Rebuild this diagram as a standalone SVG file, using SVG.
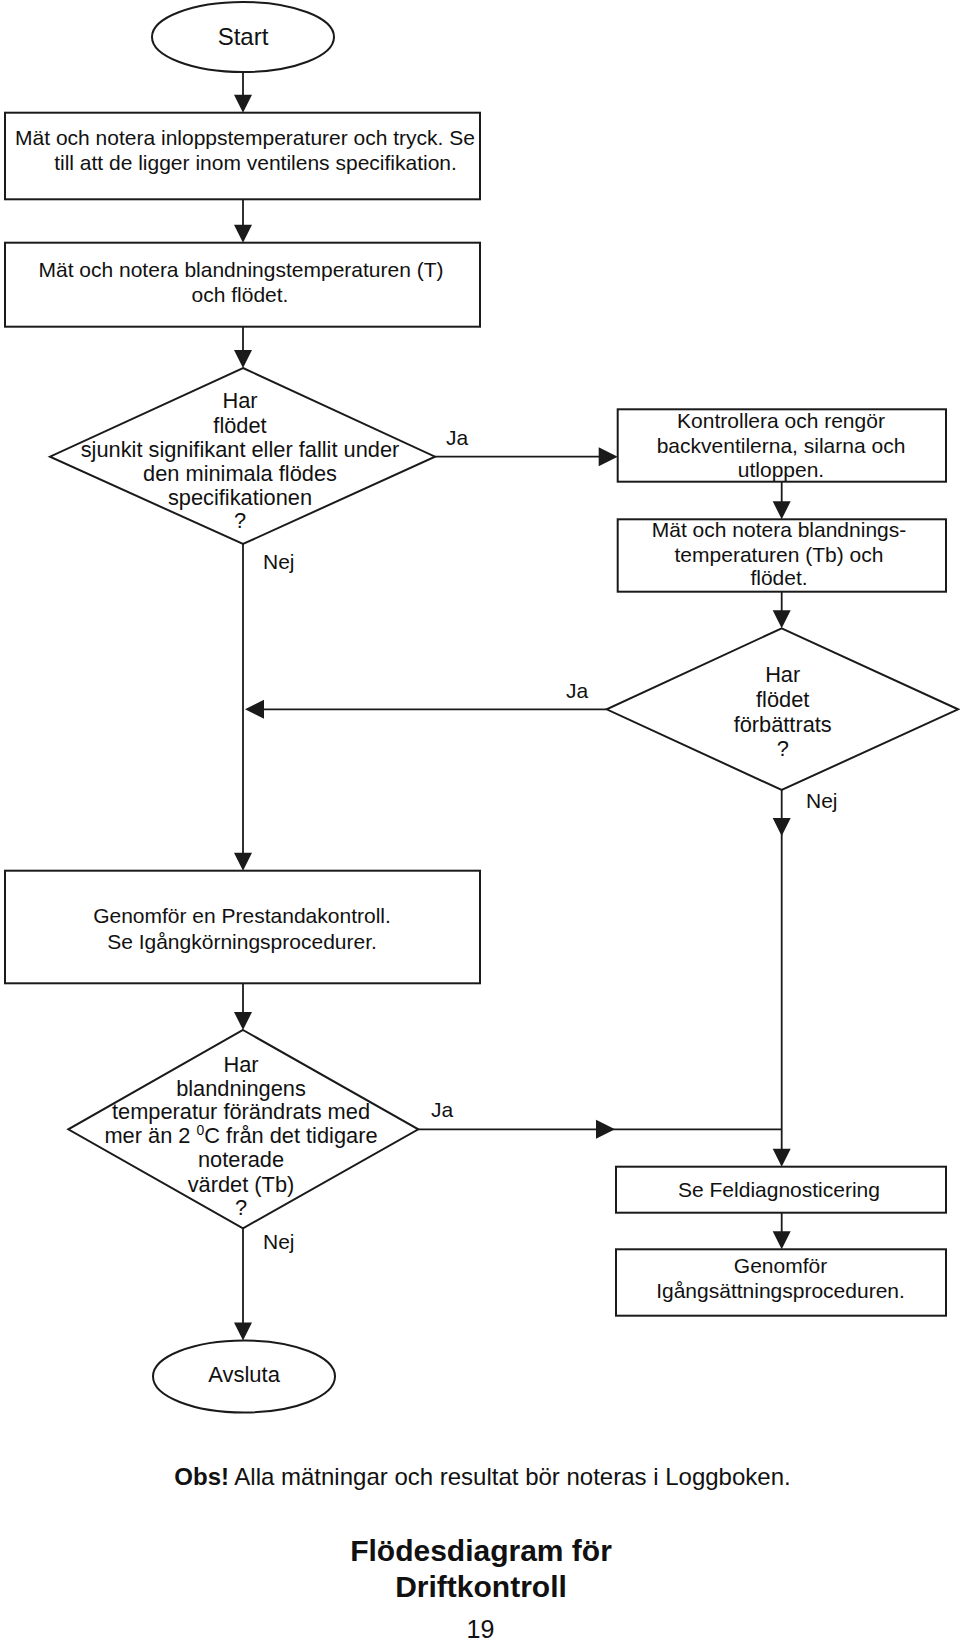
<svg xmlns="http://www.w3.org/2000/svg" xmlns:xlink="http://www.w3.org/1999/xlink" width="960" height="1642" viewBox="0 0 960 1642">
<style>
  .shape { fill: #ffffff; stroke: #1a1a1a; stroke-width: 2; }
  .conn { fill: none; stroke: #1a1a1a; stroke-width: 1.8; }
  .ah { fill: #1a1a1a; stroke: none; }
  text { font-family: "Liberation Sans", Arial, Helvetica, sans-serif; fill: #111111; }
  .t { font-size: 21px; text-anchor: middle; }
  .d { font-size: 21.8px; }
  .lbl { font-size: 21px; }
  .title { font-size: 30px; font-weight: bold; text-anchor: middle; }
</style>
<defs>
  <path id="ahDown" class="ah" d="M-9,-18 L9,-18 L0,0 Z"/>
  <path id="ahRight" class="ah" d="M-19,-9.5 L-19,9.5 L0,0 Z"/>
  <path id="ahLeft" class="ah" d="M19,-9.5 L19,9.5 L0,0 Z"/>
</defs>
<rect width="960" height="1642" fill="#ffffff"/>

<g id="connectors">
  <line class="conn" x1="243" y1="72" x2="243" y2="100"/>
  <line class="conn" x1="243" y1="199" x2="243" y2="230"/>
  <line class="conn" x1="243" y1="327" x2="243" y2="355"/>
  <line class="conn" x1="435" y1="456.7" x2="605" y2="456.7"/>
  <line class="conn" x1="243" y1="544" x2="243" y2="858"/>
  <line class="conn" x1="781.7" y1="481.7" x2="781.7" y2="507"/>
  <line class="conn" x1="781.7" y1="591.7" x2="781.7" y2="616"/>
  <line class="conn" x1="606.7" y1="709.3" x2="258" y2="709.3"/>
  <line class="conn" x1="781.7" y1="790" x2="781.7" y2="1154"/>
  <line class="conn" x1="243" y1="983" x2="243" y2="1017"/>
  <line class="conn" x1="418.3" y1="1129.3" x2="781.7" y2="1129.3"/>
  <line class="conn" x1="781.7" y1="1212.7" x2="781.7" y2="1237"/>
  <line class="conn" x1="243" y1="1228.3" x2="243" y2="1328"/>
  <use xlink:href="#ahDown" x="243" y="112.7"/>
  <use xlink:href="#ahDown" x="243" y="242.7"/>
  <use xlink:href="#ahDown" x="243" y="368"/>
  <use xlink:href="#ahRight" x="617.7" y="456.7"/>
  <use xlink:href="#ahDown" x="781.7" y="519.3"/>
  <use xlink:href="#ahDown" x="781.7" y="628.3"/>
  <use xlink:href="#ahLeft" x="245" y="709.3"/>
  <use xlink:href="#ahDown" x="781.7" y="836"/>
  <use xlink:href="#ahDown" x="243" y="870.7"/>
  <use xlink:href="#ahDown" x="243" y="1030"/>
  <use xlink:href="#ahRight" x="615" y="1129.3"/>
  <use xlink:href="#ahDown" x="781.7" y="1166.7"/>
  <use xlink:href="#ahDown" x="781.7" y="1249.3"/>
  <use xlink:href="#ahDown" x="243" y="1340.5"/>
  <text class="lbl" x="446" y="445">Ja</text>
  <text class="lbl" x="263" y="569">Nej</text>
  <text class="lbl" x="566" y="698">Ja</text>
  <text class="lbl" x="806" y="808">Nej</text>
  <text class="lbl" x="431" y="1116.7">Ja</text>
  <text class="lbl" x="263" y="1249">Nej</text>
</g>

<g id="start">
  <ellipse class="shape" cx="243" cy="37" rx="91" ry="35"/>
  <text class="t" x="243" y="45" style="font-size:24px">Start</text>
</g>

<g id="box1">
  <rect class="shape" x="5" y="112.7" width="475" height="86.6"/>
  <text class="t" x="245" y="145">Mät och notera inloppstemperaturer och tryck. Se</text>
  <text class="t" x="255.5" y="170">till att de ligger inom ventilens specifikation.</text>
</g>

<g id="box2">
  <rect class="shape" x="5" y="242.7" width="475" height="84"/>
  <text class="t" x="241" y="277">Mät och notera blandningstemperaturen (T)</text>
  <text class="t" x="240" y="302">och flödet.</text>
</g>

<g id="decision1">
  <polygon class="shape" points="243,368 435,456.7 243,544 50,456.7"/>
  <text class="t d" x="240" y="408">Har</text>
  <text class="t d" x="240" y="432.7">flödet</text>
  <text class="t d" x="240" y="457">sjunkit signifikant eller fallit under</text>
  <text class="t d" x="240" y="480.7">den minimala flödes</text>
  <text class="t d" x="240" y="505">specifikationen</text>
  <text class="t d" x="240" y="528">?</text>
</g>

<g id="box-kontrollera">
  <rect class="shape" x="617.7" y="409.3" width="328.3" height="72.4"/>
  <text class="t" x="781" y="428.3">Kontrollera och rengör</text>
  <text class="t" x="781" y="452.7">backventilerna, silarna och</text>
  <text class="t" x="781" y="476.7">utloppen.</text>
</g>

<g id="box-matb">
  <rect class="shape" x="617.7" y="519.3" width="328.3" height="72.4"/>
  <text class="t" x="779" y="537.3">Mät och notera blandnings-</text>
  <text class="t" x="779" y="561.7">temperaturen (Tb) och</text>
  <text class="t" x="779" y="585">flödet.</text>
</g>

<g id="decision2">
  <polygon class="shape" points="781.7,628.3 958,709.3 781.7,790 606.7,709.3"/>
  <text class="t d" x="782.7" y="681.7">Har</text>
  <text class="t d" x="782.7" y="706.7">flödet</text>
  <text class="t d" x="782.7" y="731.7">förbättrats</text>
  <text class="t d" x="782.7" y="756">?</text>
</g>

<g id="box-prestanda">
  <rect class="shape" x="5" y="870.7" width="475" height="112.6"/>
  <text class="t" x="242" y="923.3">Genomför en Prestandakontroll.</text>
  <text class="t" x="242" y="949">Se Igångkörningsprocedurer.</text>
</g>

<g id="decision3">
  <polygon class="shape" points="243,1030 418.3,1129.3 243,1228.3 68.3,1129.3"/>
  <text class="t d" x="241" y="1071.7">Har</text>
  <text class="t d" x="241" y="1095.7">blandningens</text>
  <text class="t d" x="241" y="1119.3">temperatur förändrats med</text>
  <text class="t d" x="241" y="1143.3">mer än 2 <tspan font-size="14" dy="-8">0</tspan><tspan dy="8">C från det tidigare</tspan></text>
  <text class="t d" x="241" y="1167.3">noterade</text>
  <text class="t d" x="241" y="1191.7">värdet (Tb)</text>
  <text class="t d" x="241" y="1215">?</text>
</g>

<g id="box-feldiagnos">
  <rect class="shape" x="616" y="1166.7" width="330" height="46"/>
  <text class="t" x="779" y="1196.7">Se Feldiagnosticering</text>
</g>

<g id="box-igangsattning">
  <rect class="shape" x="616" y="1249.3" width="330" height="66.4"/>
  <text class="t" x="780.5" y="1272.7">Genomför</text>
  <text class="t" x="780.5" y="1298.3">Igångsättningsproceduren.</text>
</g>

<g id="end">
  <ellipse class="shape" cx="244" cy="1376.5" rx="91" ry="36"/>
  <text class="t" x="244" y="1381.7" style="font-size:22px">Avsluta</text>
</g>

<g id="notes">
  <text x="482.5" y="1485" style="font-size:24px;text-anchor:middle"><tspan font-weight="bold">Obs!</tspan> Alla mätningar och resultat bör noteras i Loggboken.</text>
  <text class="title" x="481" y="1561">Flödesdiagram för</text>
  <text class="title" x="481" y="1596.7">Driftkontroll</text>
  <text x="480.5" y="1638" style="font-size:25px;text-anchor:middle">19</text>
</g>
</svg>
